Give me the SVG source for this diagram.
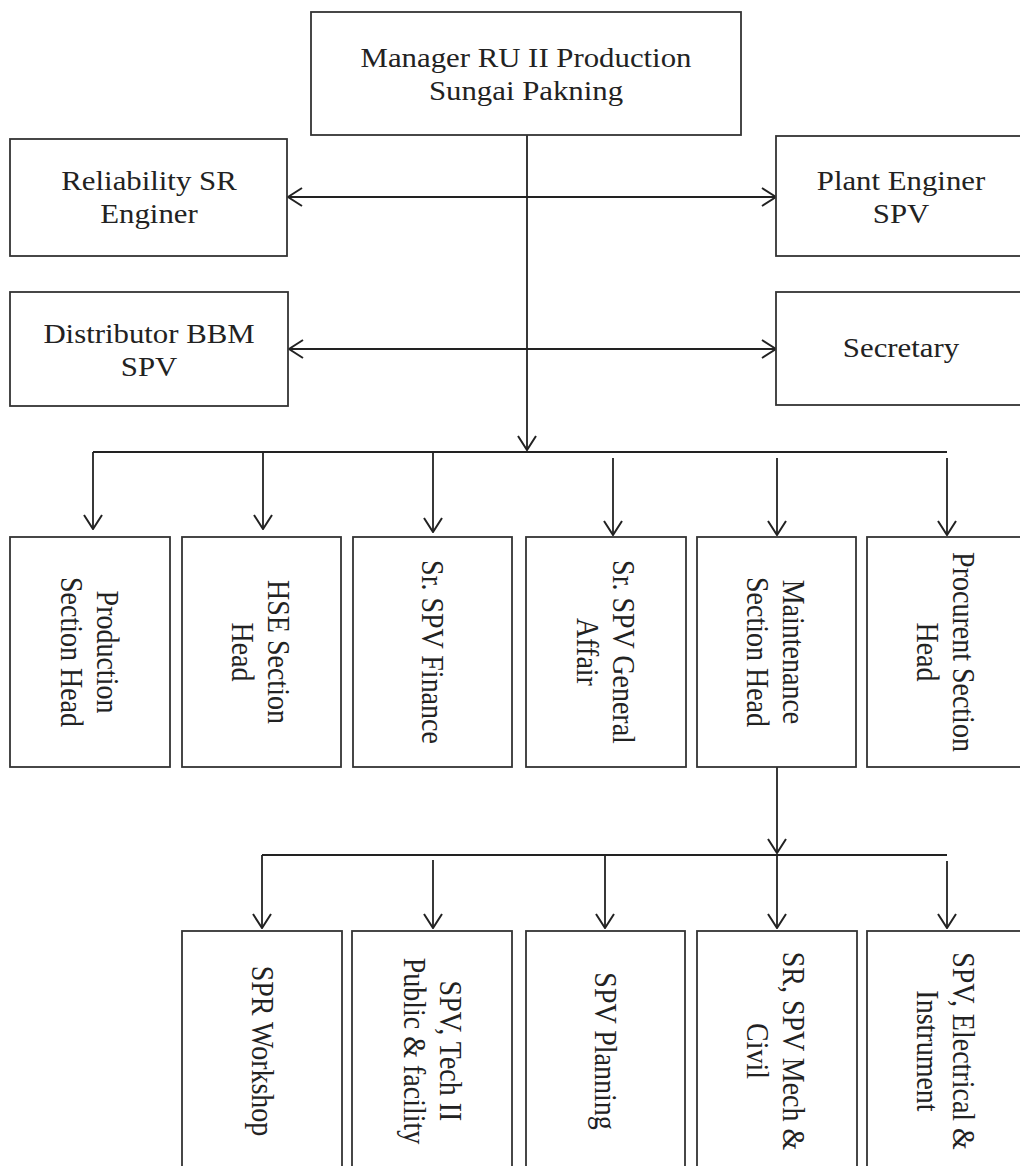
<svg xmlns="http://www.w3.org/2000/svg" width="1020" height="1166" viewBox="0 0 1020 1166">
  <defs>
    <style>
      .box { fill: #fff; stroke: #333; stroke-width: 1.8; }
      .wire { fill: none; stroke: #222; stroke-width: 1.8; }
      .lbl { font-family: "Liberation Serif", "Times New Roman", serif; font-size: 28px; fill: #222; text-anchor: middle; }
    </style>
    <marker id="arrow" viewBox="0 0 16 20" refX="15" refY="10" markerWidth="16" markerHeight="20" markerUnits="userSpaceOnUse" orient="auto-start-reverse">
      <path d="M1,1 L15,10 L1,19" fill="none" stroke="#222" stroke-width="2"/>
    </marker>
  </defs>

  <rect width="1020" height="1166" fill="#fff"/>

  <!-- connectors -->
  <g id="connectors" class="wire">
    <!-- manager trunk -->
    <path d="M527,135 V450" marker-end="url(#arrow)"/>
    <!-- staff links -->
    <path d="M288,197 H776" marker-start="url(#arrow)" marker-end="url(#arrow)"/>
    <path d="M289,349 H776" marker-start="url(#arrow)" marker-end="url(#arrow)"/>
    <!-- section bus -->
    <path d="M93,452 H947"/>
    <path d="M93,452 V529" marker-end="url(#arrow)"/>
    <path d="M263,452 V529" marker-end="url(#arrow)"/>
    <path d="M433,453 V532" marker-end="url(#arrow)"/>
    <path d="M613,458 V535" marker-end="url(#arrow)"/>
    <path d="M777,458 V535" marker-end="url(#arrow)"/>
    <path d="M947,458 V535" marker-end="url(#arrow)"/>
    <!-- maintenance branch -->
    <path d="M777,767 V853" marker-end="url(#arrow)"/>
    <path d="M262,855 H947"/>
    <path d="M262,855 V928" marker-end="url(#arrow)"/>
    <path d="M433,860 V928" marker-end="url(#arrow)"/>
    <path d="M605,855 V928" marker-end="url(#arrow)"/>
    <path d="M777,855 V928" marker-end="url(#arrow)"/>
    <path d="M947,861 V928" marker-end="url(#arrow)"/>
  </g>

  <!-- top level -->
  <g id="manager">
    <rect class="box" x="311" y="12" width="430" height="123"/>
    <text class="lbl" transform="translate(526,67) scale(1.1,1)"><tspan x="0" y="0">Manager RU II Production</tspan><tspan x="0" y="33">Sungai Pakning</tspan></text>
  </g>
  <g id="reliability">
    <rect class="box" x="10" y="139" width="277" height="117"/>
    <text class="lbl" transform="translate(149,190) scale(1.1,1)"><tspan x="0" y="0">Reliability SR</tspan><tspan x="0" y="33">Enginer</tspan></text>
  </g>
  <g id="distributor">
    <rect class="box" x="10" y="292" width="278" height="114"/>
    <text class="lbl" transform="translate(149,343) scale(1.1,1)"><tspan x="0" y="0">Distributor BBM</tspan><tspan x="0" y="33">SPV</tspan></text>
  </g>
  <g id="plant-engineer">
    <rect class="box" x="776" y="136" width="260" height="120"/>
    <text class="lbl" transform="translate(901,190) scale(1.1,1)"><tspan x="0" y="0">Plant Enginer</tspan><tspan x="0" y="33">SPV</tspan></text>
  </g>
  <g id="secretary">
    <rect class="box" x="776" y="292" width="260" height="113"/>
    <text class="lbl" transform="translate(901,357) scale(1.1,1)">Secretary</text>
  </g>

  <!-- sections -->
  <g id="production">
    <rect class="box" x="10" y="537" width="160" height="230"/>
    <text class="lbl" transform="translate(97,652) scale(1.1,1) rotate(90)"><tspan x="0" y="0">Production</tspan><tspan x="0" y="33">Section Head</tspan></text>
  </g>
  <g id="hse">
    <rect class="box" x="182" y="537" width="159" height="230"/>
    <text class="lbl" transform="translate(268,652) scale(1.1,1) rotate(90)"><tspan x="0" y="0">HSE Section</tspan><tspan x="0" y="33">Head</tspan></text>
  </g>
  <g id="finance">
    <rect class="box" x="353" y="537" width="159" height="230"/>
    <text class="lbl" transform="translate(422,652) scale(1.1,1) rotate(90)">Sr. SPV Finance</text>
  </g>
  <g id="general-affair">
    <rect class="box" x="526" y="537" width="160" height="230"/>
    <text class="lbl" transform="translate(613,652) scale(1.1,1) rotate(90)"><tspan x="0" y="0">Sr. SPV General</tspan><tspan x="0" y="33">Affair</tspan></text>
  </g>
  <g id="maintenance">
    <rect class="box" x="697" y="537" width="159" height="230"/>
    <text class="lbl" transform="translate(783,652) scale(1.1,1) rotate(90)"><tspan x="0" y="0">Maintenance</tspan><tspan x="0" y="33">Section Head</tspan></text>
  </g>
  <g id="procurement">
    <rect class="box" x="867" y="537" width="165" height="230"/>
    <text class="lbl" transform="translate(953,652) scale(1.1,1) rotate(90)"><tspan x="0" y="0">Procurent Section</tspan><tspan x="0" y="33">Head</tspan></text>
  </g>

  <!-- maintenance units -->
  <g id="workshop">
    <rect class="box" x="182" y="931" width="160" height="260"/>
    <text class="lbl" transform="translate(252,1051) scale(1.1,1) rotate(90)">SPR Workshop</text>
  </g>
  <g id="public-facility">
    <rect class="box" x="352" y="931" width="160" height="260"/>
    <text class="lbl" transform="translate(440,1051) scale(1.1,1) rotate(90)"><tspan x="0" y="0">SPV, Tech II</tspan><tspan x="0" y="33">Public &amp; facility</tspan></text>
  </g>
  <g id="planning">
    <rect class="box" x="526" y="931" width="159" height="260"/>
    <text class="lbl" transform="translate(595,1051) scale(1.1,1) rotate(90)">SPV Planning</text>
  </g>
  <g id="mech-civil">
    <rect class="box" x="697" y="931" width="160" height="260"/>
    <text class="lbl" transform="translate(783,1051) scale(1.1,1) rotate(90)"><tspan x="0" y="0">SR, SPV Mech &amp;</tspan><tspan x="0" y="33">Civil</tspan></text>
  </g>
  <g id="electrical-instrument">
    <rect class="box" x="867" y="931" width="165" height="260"/>
    <text class="lbl" transform="translate(953,1051) scale(1.1,1) rotate(90)"><tspan x="0" y="0">SPV, Electrical &amp;</tspan><tspan x="0" y="33">Instrument</tspan></text>
  </g>
</svg>
